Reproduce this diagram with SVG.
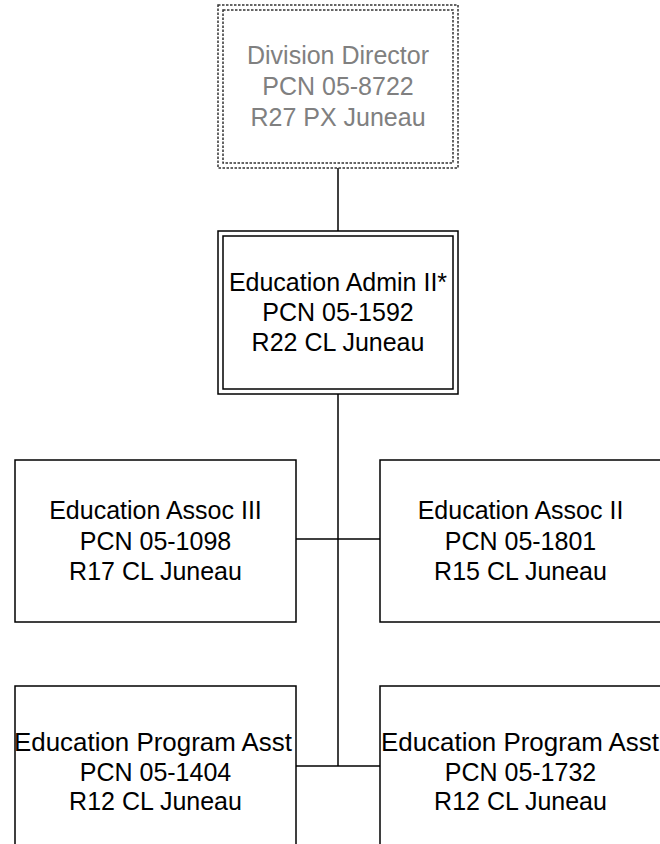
<svg xmlns="http://www.w3.org/2000/svg" width="660" height="844" viewBox="0 0 660 844">
<style>
.t{font-family:"Liberation Sans",Arial,sans-serif;font-size:25px;text-anchor:middle;fill:#000}
.g{fill:#808080}
.box{fill:#fff;stroke:#000;stroke-width:1.5}
.dot{fill:none;stroke:#333;stroke-width:1.5;stroke-dasharray:2.5 1.5}
.dbl{fill:none;stroke:#000;stroke-width:1.5}
.ln{stroke:#000;stroke-width:1.5;fill:none}
</style>
<rect width="660" height="844" fill="#fff"/>
<g id="connectors">
<line class="ln" x1="338" y1="168" x2="338" y2="231"/>
<line class="ln" x1="338" y1="394" x2="338" y2="766"/>
<line class="ln" x1="296" y1="539" x2="380" y2="539"/>
<line class="ln" x1="296" y1="766" x2="380" y2="766"/>
</g>
<g id="division-director">
<rect x="218" y="5" width="240" height="163" fill="#fff"/>
<rect class="dot" x="218" y="5" width="240" height="163"/>
<rect class="dot" x="223" y="10" width="230" height="153"/>
<text class="t g" x="338" y="64">Division Director</text>
<text class="t g" x="338" y="95">PCN 05-8722</text>
<text class="t g" x="338" y="126">R27 PX Juneau</text>
</g>
<g id="education-admin">
<rect x="218" y="231" width="240" height="163" fill="#fff"/>
<rect class="dbl" x="218" y="231" width="240" height="163"/>
<rect class="dbl" x="223" y="236" width="230" height="153"/>
<text class="t" x="338" y="291">Education Admin II*</text>
<text class="t" x="338" y="321">PCN 05-1592</text>
<text class="t" x="338" y="351">R22 CL Juneau</text>
</g>
<g id="assoc-iii">
<rect class="box" x="15" y="460" width="281" height="162"/>
<text class="t" x="155.5" y="519">Education Assoc III</text>
<text class="t" x="155.5" y="550">PCN 05-1098</text>
<text class="t" x="155.5" y="580">R17 CL Juneau</text>
</g>
<g id="assoc-ii">
<rect class="box" x="380" y="460" width="281" height="162"/>
<text class="t" x="520.5" y="519">Education Assoc II</text>
<text class="t" x="520.5" y="550">PCN 05-1801</text>
<text class="t" x="520.5" y="580">R15 CL Juneau</text>
</g>
<g id="program-asst-1404">
<rect class="box" x="15" y="686" width="281" height="164"/>
<text class="t" x="153" y="751" textLength="278" lengthAdjust="spacingAndGlyphs">Education Program Asst</text>
<text class="t" x="155.5" y="781">PCN 05-1404</text>
<text class="t" x="155.5" y="810">R12 CL Juneau</text>
</g>
<g id="program-asst-1732">
<rect class="box" x="380" y="686" width="281" height="164"/>
<text class="t" x="520" y="751" textLength="278" lengthAdjust="spacingAndGlyphs">Education Program Asst</text>
<text class="t" x="520.5" y="781">PCN 05-1732</text>
<text class="t" x="520.5" y="810">R12 CL Juneau</text>
</g>
</svg>
